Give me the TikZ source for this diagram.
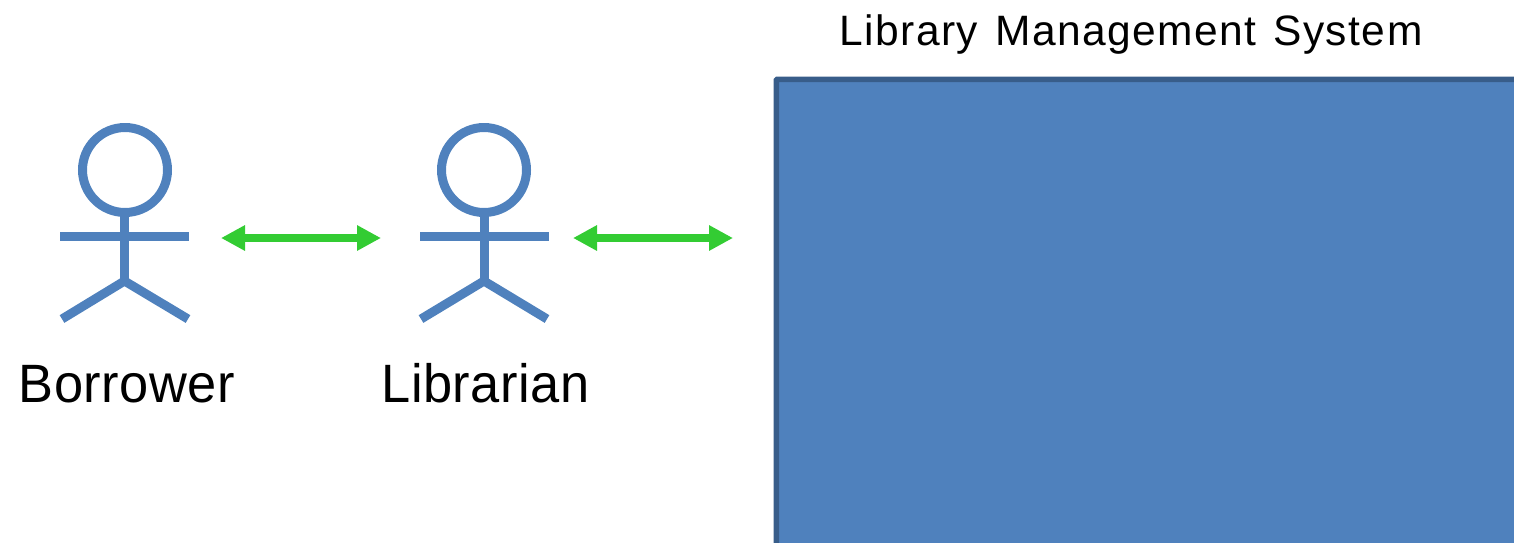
\documentclass[tikz,border=0pt]{standalone}
\usepackage{fontspec}
\setmainfont{Liberation Sans}
\newfontfamily\spacedlabel[LetterSpace=1.0,FakeStretch=0.97]{Liberation Sans}
\newfontfamily\spacedtitle[LetterSpace=3.4,WordSpace=1.3]{Liberation Sans}
\usetikzlibrary{arrows.meta}
\definecolor{figblue}{HTML}{4F81BD}
\definecolor{arrowgreen}{HTML}{33CC33}
\definecolor{boxedge}{HTML}{385D8A}
\tikzset{
 figline/.style={draw=figblue,line width=9pt},
 biarrow/.style={draw=arrowgreen,line width=8pt,{Triangle[length=24pt,width=24pt]}-{Triangle[length=24pt,width=24pt]}},
 lbl/.style={inner sep=0pt,anchor=base,text=black}
}
\begin{document}
\begin{tikzpicture}[x=1pt,y=-1pt]
\useasboundingbox (0,0) rectangle (1514,542);
\fill[figblue] (776,79) rectangle (1520,548);
\draw[boxedge,line width=5.5pt,rounded corners=1pt] (776.3,548) -- (776.3,79.3) -- (1520,79.3);
\draw[figline] (125,170) circle (42.5);
\draw[figline] (124.5,214) -- (124.5,281);
\draw[figline] (60,236.5) -- (189,236.5);
\draw[figline] (62,319) -- (124.5,281) -- (188,319);
\draw[figline] (484,170) circle (42.5);
\draw[figline] (484,214) -- (484,281);
\draw[figline] (420,236.5) -- (549,236.5);
\draw[figline] (421,319) -- (484,281) -- (547,319);
\coordinate (a1) at (221,238); \coordinate (a2) at (381,238);
\coordinate (b1) at (573,238); \coordinate (b2) at (733,238);
\draw[biarrow] (a1) -- (a2);
\draw[biarrow] (b1) -- (b2);
\node[lbl,font=\spacedlabel\fontsize{54}{60}\selectfont] (bor) at (127,402) {Borrower};
\node[lbl,font=\spacedlabel\fontsize{54}{60}\selectfont] (lib) at (485.5,402) {Librarian};
\node[lbl,font=\spacedtitle\fontsize{42.5}{48}\selectfont] (title) at (1131,45) {Library Management System};
\end{tikzpicture}
\end{document}
